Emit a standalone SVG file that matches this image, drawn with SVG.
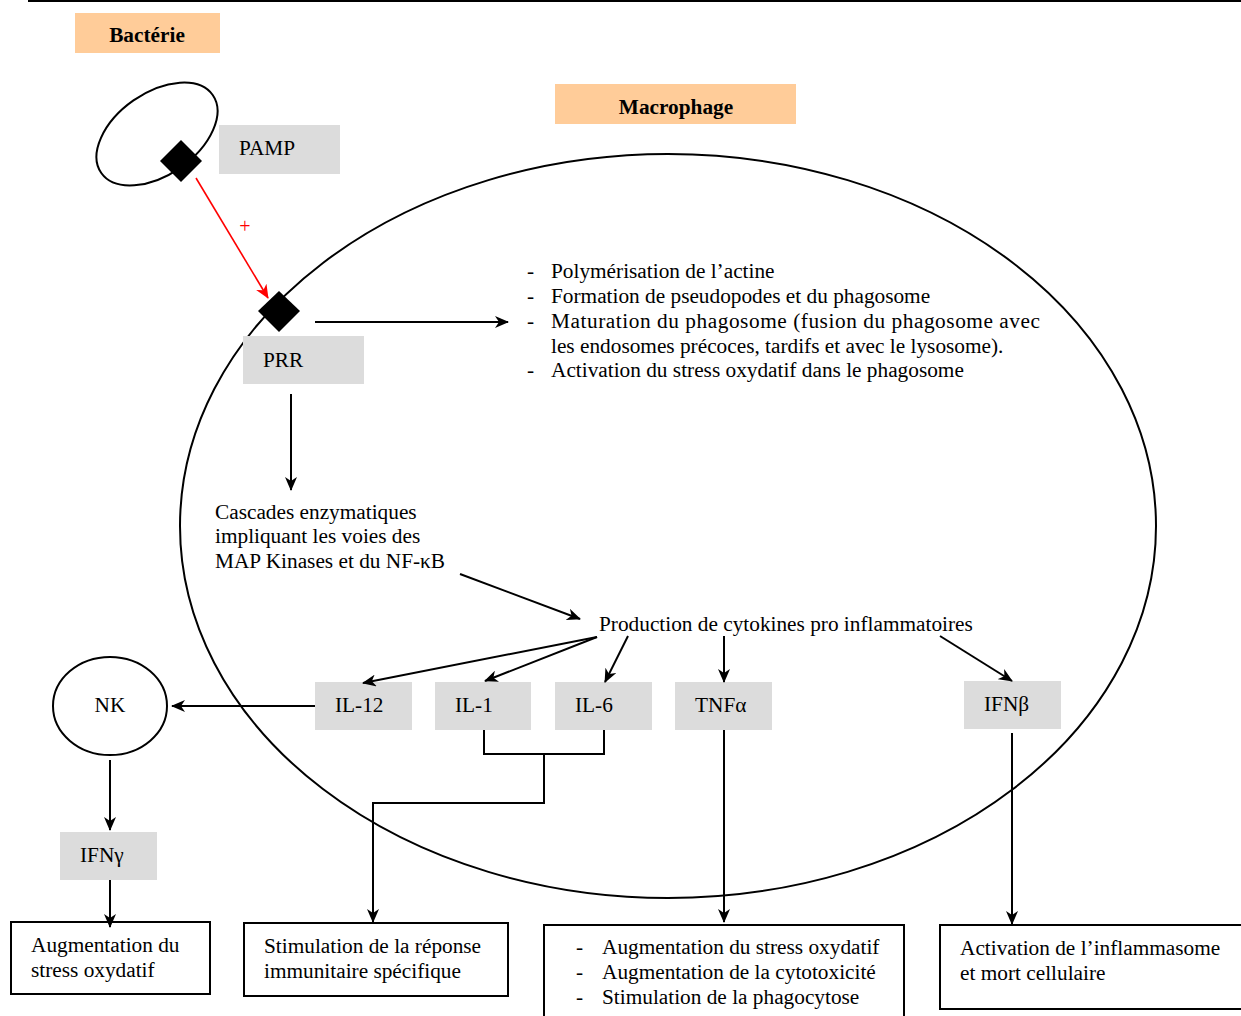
<svg xmlns="http://www.w3.org/2000/svg" width="1241" height="1016" viewBox="0 0 1241 1016">
<defs>
<style>
text{font-family:"Liberation Serif","Times New Roman",serif;font-size:21.3px;fill:#000}
.b{font-weight:bold}
.lab{fill:#FFCC99}
.g{fill:#DCDCDC}
.ln{stroke:#000;stroke-width:2;fill:none}
.box{stroke:#000;stroke-width:2;fill:#fff}
</style>
<marker id="ah" viewBox="0 0 14 12" refX="13" refY="6" markerWidth="14" markerHeight="12" markerUnits="userSpaceOnUse" orient="auto">
<path d="M0,0 L14,6 L0,12 L4,6 Z" fill="#000"/>
</marker>
<marker id="ahr" viewBox="0 0 14 12" refX="13" refY="6" markerWidth="14" markerHeight="12" markerUnits="userSpaceOnUse" orient="auto">
<path d="M0,0 L14,6 L0,12 L4,6 Z" fill="#FF0000"/>
</marker>
</defs>
<rect width="1241" height="1016" fill="#fff"/>
<line x1="28" y1="1" x2="1241" y2="1" stroke="#000" stroke-width="2"/>

<g id="macrophage-cell"><ellipse cx="668" cy="526" rx="488" ry="372" class="ln"/></g>

<g id="bacterie-label"><rect x="75" y="13" width="145" height="40" class="lab"/><text x="147" y="42" text-anchor="middle" class="b">Bactérie</text></g>
<g id="macrophage-label"><rect x="555" y="84" width="241" height="40" class="lab"/><text x="676" y="114" text-anchor="middle" class="b">Macrophage</text></g>

<g id="bacterie"><ellipse cx="157" cy="134" rx="68" ry="41" transform="rotate(-35 157 134)" class="ln"/></g>
<g id="pamp-diamond"><polygon points="181,140 202,161 181,182 160,161" fill="#000"/></g>
<g id="pamp"><rect x="219" y="125" width="121" height="49" class="g"/><text x="239" y="155">PAMP</text></g>
<g id="prr-diamond"><polygon points="279,291 300,311 279,332 258,311" fill="#000"/></g>
<g id="prr"><rect x="243" y="336" width="121" height="48" class="g"/><text x="263" y="367">PRR</text></g>

<g id="phago-list">
<text x="527" y="278">-</text><text x="551" y="278">Polymérisation de l’actine</text>
<text x="527" y="303">-</text><text x="551" y="303">Formation de pseudopodes et du phagosome</text>
<text x="527" y="328">-</text><text x="551" y="328" textLength="489" lengthAdjust="spacing">Maturation du phagosome (fusion du phagosome avec</text>
<text x="551" y="353">les endosomes précoces, tardifs et avec le lysosome).</text>
<text x="527" y="377">-</text><text x="551" y="377">Activation du stress oxydatif dans le phagosome</text>
</g>

<g id="cascades">
<text x="215" y="519">Cascades enzymatiques</text>
<text x="215" y="543">impliquant les voies des</text>
<text x="215" y="568">MAP Kinases et du NF-κB</text>
</g>
<g id="production"><text x="599" y="631">Production de cytokines pro inflammatoires</text></g>

<g id="il12"><rect x="315" y="682" width="97" height="48" class="g"/><text x="335" y="712">IL-12</text></g>
<g id="il1"><rect x="435" y="682" width="96" height="48" class="g"/><text x="455" y="712">IL-1</text></g>
<g id="il6"><rect x="555" y="682" width="97" height="48" class="g"/><text x="575" y="712">IL-6</text></g>
<g id="tnfa"><rect x="675" y="682" width="97" height="48" class="g"/><text x="695" y="712">TNFα</text></g>
<g id="ifnb"><rect x="964" y="681" width="97" height="48" class="g"/><text x="984" y="711">IFNβ</text></g>

<g id="nk"><ellipse cx="110" cy="706" rx="57" ry="49" class="ln"/><text x="110" y="712" text-anchor="middle">NK</text></g>
<g id="ifng"><rect x="60" y="832" width="97" height="48" class="g"/><text x="80" y="862">IFNγ</text></g>

<g id="res1"><rect x="11" y="922" width="199" height="72" class="box"/><text x="31" y="952">Augmentation du</text><text x="31" y="977">stress oxydatif</text></g>
<g id="res2"><rect x="244" y="923" width="264" height="73" class="box"/><text x="264" y="953">Stimulation de la réponse</text><text x="264" y="978">immunitaire spécifique</text></g>
<g id="res3"><rect x="544" y="925" width="360" height="100" class="box"/>
<text x="576" y="954">-</text><text x="602" y="954">Augmentation du stress oxydatif</text>
<text x="576" y="979">-</text><text x="602" y="979">Augmentation de la cytotoxicité</text>
<text x="576" y="1004">-</text><text x="602" y="1004">Stimulation de la phagocytose</text></g>
<g id="res4"><rect x="940" y="925" width="310" height="84" class="box"/><text x="960" y="955">Activation de l’inflammasome</text><text x="960" y="980">et mort cellulaire</text></g>

<g id="connectors">
<line x1="196" y1="178" x2="268" y2="298" stroke="#FF0000" stroke-width="1.6" marker-end="url(#ahr)"/>
<text x="245" y="233" text-anchor="middle" style="fill:#FF0000;font-size:20px">+</text>
<line x1="315" y1="322" x2="508" y2="322" class="ln" marker-end="url(#ah)"/>
<line x1="291" y1="394" x2="291" y2="490" class="ln" marker-end="url(#ah)"/>
<line x1="460" y1="574" x2="580" y2="619" class="ln" marker-end="url(#ah)"/>
<line x1="597" y1="637" x2="363" y2="683" class="ln" marker-end="url(#ah)"/>
<line x1="597" y1="637" x2="485" y2="681" class="ln" marker-end="url(#ah)"/>
<line x1="628" y1="636" x2="605" y2="682" class="ln" marker-end="url(#ah)"/>
<line x1="724" y1="636" x2="724" y2="682" class="ln" marker-end="url(#ah)"/>
<line x1="940" y1="636" x2="1012" y2="681" class="ln" marker-end="url(#ah)"/>
<line x1="315" y1="706" x2="172" y2="706" class="ln" marker-end="url(#ah)"/>
<line x1="110" y1="760" x2="110" y2="830" class="ln" marker-end="url(#ah)"/>
<line x1="110" y1="880" x2="110" y2="927" class="ln" marker-end="url(#ah)"/>
<polyline points="484,730 484,754 604,754 604,730" class="ln"/>
<polyline points="544,754 544,803 373,803 373,922" class="ln" marker-end="url(#ah)"/>
<line x1="724" y1="730" x2="724" y2="922" class="ln" marker-end="url(#ah)"/>
<line x1="1012" y1="733" x2="1012" y2="924" class="ln" marker-end="url(#ah)"/>
</g>
</svg>
